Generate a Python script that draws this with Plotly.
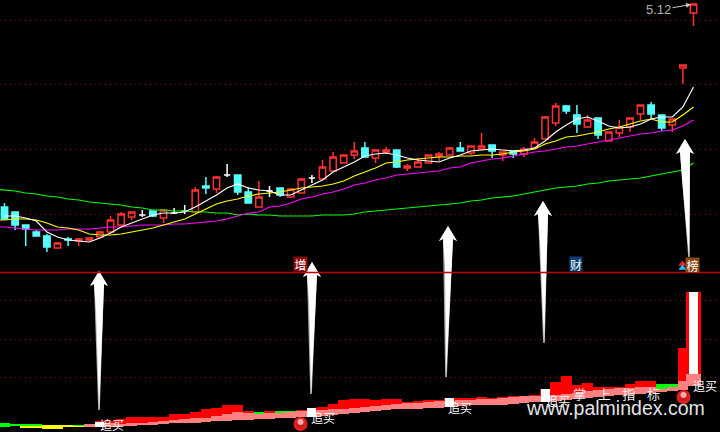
import plotly.graph_objects as go

# Vertical readings are taken from the picture, measured downward from the top edge.
idx = list(range(66))
open_ = [219,225,229,236,247,248,240,241,240,237,232,225,217,215,216,218,213,211,212,188,189,175,192,203,207,191,195,197,193,178,179,171,163,155,157,158,152,167,168,167,163,156,155,151,153,149,151,155,154,154,148,139,123,111,124,127,135,141,133,127,114,114,128,125,68,13]
close = [207,212,225,232,236,243,239,239,238,232,220,214,212,215,211,210,213,211,190,186,177,175,175,192,197,191,188,189,179,178,167,157,155,151,148,150,150,150,166,162,155,154,148,148,146,146,145,152,151,149,142,117,106,106,115,120,118,132,127,118,105,105,115,119,65,4]
high = [203,212,225,230,234,242,237,238,238,231,216,212,212,210,211,210,208,205,187,177,176,164,175,187,181,186,188,188,178,175,160,152,155,142,142,150,147,150,164,158,155,152,147,142,146,133,145,152,151,147,138,116,103,105,105,115,118,132,120,118,105,102,115,119,65,4]
low = [219,230,246,236,252,248,246,246,241,237,234,225,220,217,217,223,214,214,212,194,193,177,195,203,207,197,197,197,193,183,179,171,163,159,157,163,154,168,171,167,163,161,155,151,155,149,158,161,158,157,148,139,126,114,133,128,139,141,137,132,120,119,131,132,84,26]
kind = list("ccccc" "rcrRr" "rrrwc" "rwwrc" "rwccr" "wcrrw" "rrrrc" "rRcRr" "rRrcr" "rcrcr" "rrrcc" "rcrrr" "rccrr" "r")

ma5 = [216,216,218,221,232,237,240,241,242,238,233,227,223,219,215,213,213,212,207,201,195,188,184,188,190,191,195,195,190,185,180,172,167,162,156,154,153,155,158,160,161,162,158,155,151,150,149,150,151,150,148,141,132,125,119,117,121,126,128,127,124,119,117,117,107,87]
ma10 = [220,219,219,220,223,227,228,230,234,235,235,234,232,230,228,225,222,219,214,209,204,201,199,196,194,193,192,190,188,187,186,184,181,176,172,168,163,162,160,159,158,157,157,156,156,155,155,154,152,151,149,144,141,137,136,134,132,129,127,124,121,119,122,122,115,107]
ma20 = [227,228,229,230,230,230,229,229,229,228,227,227,226,225,225,225,224,224,223,222,221,219,216,213,212,207,206,203,199,197,194,192,189,185,183,180,178,175,174,173,172,171,168,167,163,161,159,158,156,154,152,151,149,147,146,144,142,140,138,136,134,133,131,130,126,120]
ma60 = [190,191,193,194,196,197,199,200,202,203,204,205,207,208,210,210,211,211,212,212,213,213,215,214,215,215,216,216,216,216,215,215,215,214,212,211,210,209,208,207,206,205,204,203,201,200,198,197,196,194,192,190,188,187,186,184,183,181,180,179,178,176,174,172,170,163]
# Readings just left of the first whole candle, where the lines run off the edge.
lead_idx = -1
lead_ma10 = 220
lead_ma20 = 227
lead_ma60 = 189

_ = None
red_top = [_,_,_,_,_,_,_,_,424,421,421,419,417,417,417,417,414,414,412,409,408,405,405,411,_,411,_,_,410,408,407,404,400,399,399,400,399,399,402,401,400,400,398,398,398,397,398,397,396,396,395,389,382,376,385,383,387,387,387,384,381,381,_,_,348,292]
pink_top = [_,_,_,_,_,_,_,_,424,423,423,424,423,423,422,421,420,419,418,418,416,414,412,413,414,413,413,412,411,410,410,409,409,408,407,406,405,404,403,403,402,401,401,400,400,399,399,398,397,396,396,396,395,394,393,391,390,389,388,388,387,387,389,387,381,374]
pink_bot = [_,_,_,_,_,_,_,_,427,427,427,426,426,425,425,424,423,423,423,422,421,421,420,420,419,419,418,418,417,417,416,415,414,413,412,411,410,409,409,409,408,408,407,406,405,405,405,405,404,403,402,402,401,400,399,398,397,396,395,395,394,393,392,391,390,386]
green_top = [423,424,424,424,_,_,_,425,_,_,_,_,_,_,_,_,_,_,_,_,_,_,_,_,412,_,411,411,_,_,_,_,_,_,_,_,_,_,_,_,_,_,_,_,_,_,_,_,_,_,_,_,_,_,_,_,_,_,_,_,_,_,384,384,_,_]
green_bot = [427,426,426,426,_,_,_,426,_,_,_,_,_,_,_,_,_,_,_,_,_,_,_,_,414,_,413,412,_,_,_,_,_,_,_,_,_,_,_,_,_,_,_,_,_,_,_,_,_,_,_,_,_,_,_,_,_,_,_,_,_,_,389,387,_,_]
yellow_top = [_,_,426,426,425,425,425,426] + [_] * 58
yellow_bot = [_,_,428,428,429,429,427,427] + [_] * 58

signal_idx = [9, 29, 42, 51, 65]
signal_top = [422, 408, 398, 389, 292]
signal_bot = [427, 417, 407, 402, 374]
signal_label = ["追买"] * 5
label_x = [112, 323, 460, 558, 705]
label_y = [424.5, 417, 407, 400, 385]

arrow_tip_x = [99, 312, 448, 543, 685]
arrow_tail_x = [99, 311, 446, 544, 689]
arrow_tip_y = [271, 262, 226, 201, 139]
arrow_tail_y = [410, 394, 377, 343, 257]

ball_x = [300.5, 683.5]
ball_y = [424, 397]

GRID = [20, 84, 149, 214, 300, 339, 377]
SPLIT = 272.5
PX = 10.6
X0 = 4.5


def to_i(px):
    return (px - X0) / PX


def bars(top, bot, color, wide=None, width=1.0):
    xs, base, h, w = [], [], [], []
    for i, (t, b) in enumerate(zip(top, bot)):
        if t is None:
            continue
        xs.append(i)
        base.append(t)
        h.append(b - t)
        w.append((wide or {}).get(i, width))
    return go.Bar(x=xs, y=h, base=base, width=w, marker=dict(color=color, line=dict(width=0)), showlegend=False, hoverinfo="skip")


fig = go.Figure()
# Lower panel
fig.add_trace(bars(red_top, pink_bot, "#FF0000", {65: 1.41}))
fig.add_trace(bars(pink_top, pink_bot, "#FF8080", {65: 1.41}))
fig.add_trace(bars(green_top, green_bot, "#00FF00"))
fig.add_trace(bars(yellow_top, yellow_bot, "#FFFF00"))
wt = [None] * 66
wb = [None] * 66
for i, t, b in zip(signal_idx, signal_top, signal_bot):
    wt[i], wb[i] = t, b
fig.add_trace(bars(wt, wb, "#FFFFFF", width=0.85))

# Moving averages
lines = [
    ([lead_idx] + idx, [lead_ma60] + ma60, "#00FF00"),
    ([lead_idx] + idx, [lead_ma20] + ma20, "#FF00FF"),
    ([lead_idx] + idx, [lead_ma10] + ma10, "#FFFF00"),
    (idx, ma5, "#FFFFFF"),
]
for xs, ys, c in lines:
    fig.add_trace(go.Scatter(x=xs, y=ys, mode="lines", line=dict(color=c, width=1.2), showlegend=False, hoverinfo="skip"))

# Candles, drawn as box glyphs so that the body width can be set per group.
styles = {
    "r": ("#FF3030", "rgba(0,0,0,0)"),
    "R": ("#FF3030", "#FF3030"),
    "c": ("#55FFFF", "#55FFFF"),
    "w": ("#FFFFFF", "#FFFFFF"),
}
for k, (lc, fc) in styles.items():
    sel = [i for i in idx if kind[i] == k]
    q1 = [min(open_[i], close[i]) for i in sel]
    q3 = [max(open_[i], close[i]) for i in sel]
    fig.add_trace(go.Box(
        x=sel, q1=q1, median=q1, q3=q3,
        lowerfence=[high[i] for i in sel], upperfence=[low[i] for i in sel],
        line=dict(color=lc, width=1.5), fillcolor=fc, width=0.6, whiskerwidth=0,
        boxpoints=False, showlegend=False, hoverinfo="skip"))

# Arrows
for tx, ux, ty, uy in zip(arrow_tip_x, arrow_tail_x, arrow_tip_y, arrow_tail_y):
    gx = [tx, tx + 9, tx + 5, ux + 0.8, ux - 0.8, tx - 5, tx - 9, tx]
    gy = [ty, ty + 15, ty + 13, uy, uy, ty + 13, ty + 15, ty]
    fig.add_trace(go.Scatter(x=[to_i(v) for v in gx], y=gy, mode="lines", fill="toself",
                             fillcolor="#B0B0B0", line=dict(width=0, color="#B0B0B0"), showlegend=False, hoverinfo="skip"))
    wx = [tx, tx + 9, tx + 5, ux + 0.8, ux + 0.1, tx - 3, tx - 5, tx - 9, tx]
    wy = [ty, ty + 15, ty + 13, uy, uy, ty + 40, ty + 13, ty + 15, ty]
    fig.add_trace(go.Scatter(x=[to_i(v) for v in wx], y=wy, mode="lines", fill="toself",
                             fillcolor="#FFFFFF", line=dict(width=0, color="#FFFFFF"), showlegend=False, hoverinfo="skip"))

# Balls
fig.add_trace(go.Scatter(x=[to_i(v) for v in ball_x], y=ball_y, mode="markers", showlegend=False, hoverinfo="skip",
                         marker=dict(size=14, color="#F02020", line=dict(width=0),
                                     gradient=dict(type="radial", color="#B81414"))))
fig.add_trace(go.Scatter(x=[to_i(v) for v in ball_x], y=[v - 2 for v in ball_y], mode="markers", showlegend=False, hoverinfo="skip",
                         marker=dict(size=6, color="rgba(255,200,200,0.85)", line=dict(width=0))))
# Little marker triangles beside the last badge
fig.add_trace(go.Scatter(x=[to_i(682.5)], y=[264], mode="markers", showlegend=False, hoverinfo="skip",
                         marker=dict(symbol="triangle-up", size=7, color="#FF2020", line=dict(width=0))))
fig.add_trace(go.Scatter(x=[to_i(682.5)], y=[268], mode="markers", showlegend=False, hoverinfo="skip",
                         marker=dict(symbol="triangle-up", size=7, color="#20C0FF", line=dict(width=0))))

CJK = "Noto Sans CJK SC"
ann = []


def text(px, py, s, size, color="#FFFFFF", family=CJK, bg=None, **kw):
    ann.append(dict(xref="paper", yref="paper", x=px / 720, y=1 - py / 432, text=s, showarrow=False,
                    font=dict(family=family, size=size, color=color), xanchor="center", yanchor="middle",
                    borderpad=0, bgcolor=bg, **kw))


for lx, ly, s in zip(label_x, label_y, signal_label):
    text(lx, ly, s, 12)
text(300.5, 264, "增", 12, bg="#8C0A0A", width=13, height=14)
text(576, 264, "财", 12, bg="#0C3F70", width=12, height=14)
text(692.5, 264.5, "榜", 12, bg="#8B4A14", width=13, height=14)
text(616, 393, "掌\u00a0\u00a0\u00a0\u00a0上\u00a0\u00a0\u00a0\u00a0指\u00a0\u00a0\u00a0\u00a0标", 13, color="#F0F0F0")
text(615, 407.5, "www.palmindex.com", 19.5, color="#E4E4E4", family="Liberation Sans")
text(658, 9.5, "5.12", 13, color="#B0B0B0", family="Liberation Sans")
ann.append(dict(xref="x", yref="y", x=to_i(691), y=4.5, axref="x", ayref="y", ax=to_i(671), ay=8,
                showarrow=True, arrowhead=2, arrowsize=1, arrowwidth=1, arrowcolor="#C8C8C8", text=""))

fig.update_layout(
    width=720, height=432, margin=dict(l=0, r=0, t=0, b=0),
    paper_bgcolor="#000000", plot_bgcolor="#000000",
    barmode="overlay", bargap=0, boxmode="overlay", showlegend=False, annotations=ann,
    xaxis=dict(range=[to_i(0), to_i(720)], visible=False, fixedrange=True),
    yaxis=dict(range=[432, 0], showgrid=True, gridcolor="#8A1010", griddash="1px,4px", gridwidth=1,
               tickmode="array", tickvals=GRID, showticklabels=False, ticks="", zeroline=False,
               showline=False, fixedrange=True),
    shapes=[dict(type="line", xref="paper", x0=0, x1=1, yref="y", y0=SPLIT, y1=SPLIT,
                 line=dict(color="#C00000", width=1.3))],
)
fig.write_html("out.html", config=dict(displayModeBar=False),
               post_script="document.body.style.margin='0';document.body.style.background='#000';")
